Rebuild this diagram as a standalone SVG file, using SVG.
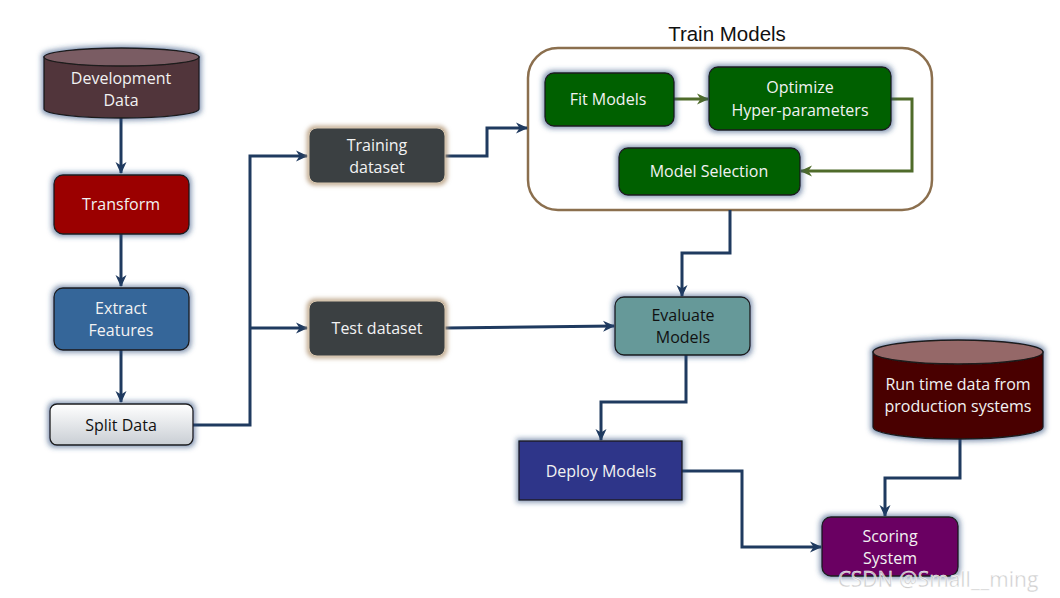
<svg xmlns="http://www.w3.org/2000/svg" width="1060" height="598" viewBox="0 0 1060 598">
<defs>
<filter id="glow" x="-20%" y="-30%" width="140%" height="160%">
<feMorphology in="SourceAlpha" operator="dilate" radius="2" result="d"/>
<feGaussianBlur in="d" stdDeviation="2.5" result="b"/>
<feFlood flood-color="#2a4a7a" flood-opacity="0.55"/>
<feComposite in2="b" operator="in" result="s"/>
<feMerge><feMergeNode in="s"/><feMergeNode in="SourceGraphic"/></feMerge>
</filter>
<filter id="tan" x="-20%" y="-30%" width="140%" height="160%">
<feMorphology in="SourceAlpha" operator="dilate" radius="2" result="d"/>
<feGaussianBlur in="d" stdDeviation="2" result="b"/>
<feFlood flood-color="#b59a7a" flood-opacity="0.8"/>
<feComposite in2="b" operator="in" result="s"/>
<feMerge><feMergeNode in="s"/><feMergeNode in="SourceGraphic"/></feMerge>
</filter>
<linearGradient id="split" x1="0" y1="0" x2="0" y2="1">
<stop offset="0" stop-color="#ffffff"/><stop offset="1" stop-color="#c9ced4"/>
</linearGradient>
<marker id="ab" viewBox="0 0 12 12" refX="11" refY="6" markerWidth="12" markerHeight="12" markerUnits="userSpaceOnUse" orient="auto">
<path d="M0,0.5 L12,6 L0,11.5 L3.5,6 Z" fill="#1f3a5f"/>
</marker>
<marker id="ag" viewBox="0 0 12 12" refX="11" refY="6" markerWidth="12" markerHeight="12" markerUnits="userSpaceOnUse" orient="auto">
<path d="M0,0.5 L12,6 L0,11.5 L3.5,6 Z" fill="#4f6b2a"/>
</marker>
</defs>
<style>
.t{font-family:"Open Sans","Noto Sans",sans-serif;font-size:16px;text-anchor:middle;fill:#f2f2f2}
.k{fill:#111}
.c{fill:none;stroke:#1f3a5f;stroke-width:3;stroke-linejoin:miter}
.g{fill:none;stroke:#4f6b2a;stroke-width:3}
.n{stroke:#1a1a1a;stroke-width:1.3}
</style>
<rect width="1060" height="598" fill="#ffffff"/>

<g id="train-models">
<rect x="528" y="48" width="404" height="162" rx="30" fill="#ffffff" stroke="#8b6f4e" stroke-width="2.5"/>
<text x="727" y="41" font-family="'Liberation Sans',Arial,sans-serif" font-size="20.5" text-anchor="middle" fill="#111">Train Models</text>
</g>

<g id="connectors">
<polyline class="c" points="121,118 121,173" marker-end="url(#ab)"/>
<polyline class="c" points="121,234 121,286" marker-end="url(#ab)"/>
<polyline class="c" points="121,350 121,402" marker-end="url(#ab)"/>
<polyline class="c" points="193,425 250,425 250,156 307,156" marker-end="url(#ab)"/>
<polyline class="c" points="250,328 307,328" marker-end="url(#ab)"/>
<polyline class="c" points="445,156 487,156 487,128 527,128" marker-end="url(#ab)"/>
<polyline class="c" points="445,328 614,326" marker-end="url(#ab)"/>
<polyline class="c" points="730,210 730,253 682,253 682,296" marker-end="url(#ab)"/>
<polyline class="c" points="686,355 686,402 601,402 601,440" marker-end="url(#ab)"/>
<polyline class="c" points="682,471 742,471 742,547 821,547" marker-end="url(#ab)"/>
<polyline class="c" points="960,438 960,478 885,478 885,516" marker-end="url(#ab)"/>
<polyline class="g" points="674,99 708,99" marker-end="url(#ag)"/>
<polyline class="g" points="891,99 912,99 912,171 801,171" marker-end="url(#ag)"/>
</g>

<g id="dev-data" filter="url(#glow)">
<path d="M44,57 L44,109 A77.5,9 0 0 0 199,109 L199,57 Z" fill="#51343a" class="n"/>
<ellipse cx="121.5" cy="57" rx="77.5" ry="9" fill="#7a5c63" class="n"/>
</g>
<text class="t" x="121" y="84">Development</text>
<text class="t" x="121" y="106">Data</text>

<g id="transform"><rect x="54" y="175" width="135" height="59" rx="9" fill="#9b0000" class="n" filter="url(#glow)"/>
<text class="t" x="121" y="210">Transform</text></g>

<g id="extract"><rect x="54" y="288" width="135" height="62" rx="9" fill="#356699" class="n" filter="url(#glow)"/>
<text class="t" x="121" y="314">Extract</text><text class="t" x="121" y="336">Features</text></g>

<g id="split"><rect x="50" y="404" width="143" height="41" rx="7" fill="url(#split)" class="n" filter="url(#glow)"/>
<text class="t k" x="121" y="431">Split Data</text></g>

<g id="training"><rect x="309" y="128" width="136" height="55" rx="8" fill="#3b3f42" stroke="#d8c8b0" stroke-width="1" filter="url(#tan)"/>
<text class="t" x="377" y="151">Training</text><text class="t" x="377" y="173">dataset</text></g>

<g id="test"><rect x="309" y="301" width="136" height="55" rx="8" fill="#3b3f42" stroke="#d8c8b0" stroke-width="1" filter="url(#tan)"/>
<text class="t" x="377" y="334">Test dataset</text></g>

<g id="fit"><rect x="545" y="73" width="129" height="53" rx="9" fill="#006000" class="n" filter="url(#glow)"/>
<text class="t" x="608" y="105">Fit Models</text></g>

<g id="optimize"><rect x="709" y="67" width="182" height="63" rx="9" fill="#006000" class="n" filter="url(#glow)"/>
<text class="t" x="800" y="93">Optimize</text><text class="t" x="800" y="116">Hyper-parameters</text></g>

<g id="selection"><rect x="619" y="148" width="181" height="47" rx="9" fill="#006000" class="n" filter="url(#glow)"/>
<text class="t" x="709" y="177">Model Selection</text></g>

<g id="evaluate"><rect x="615" y="297" width="135" height="58" rx="9" fill="#669999" class="n" filter="url(#glow)"/>
<text class="t k" x="683" y="321">Evaluate</text><text class="t k" x="683" y="343">Models</text></g>

<g id="deploy"><rect x="519" y="441" width="163" height="59" fill="#2e3589" class="n" filter="url(#glow)"/>
<text class="t" x="601" y="477">Deploy Models</text></g>

<g id="runtime-data" filter="url(#glow)">
<path d="M873,352 L873,427 A85,12 0 0 0 1043,427 L1043,352 Z" fill="#4a0000" class="n"/>
<ellipse cx="958" cy="352" rx="85" ry="12" fill="#956867" class="n"/>
</g>
<text class="t" x="958" y="390">Run time data from</text>
<text class="t" x="958" y="412">production systems</text>

<g id="scoring"><rect x="822" y="517" width="136" height="59" rx="9" fill="#6a0062" class="n" filter="url(#glow)"/>
<text class="t" x="890" y="542">Scoring</text><text class="t" x="890" y="564">System</text></g>

<text x="938" y="587" font-family="'Open Sans','Noto Sans',sans-serif" font-size="21" text-anchor="middle" fill="#c8c8c8" fill-opacity="0.9" stroke="#ffffff" stroke-width="0.4">CSDN @Small__ming</text>
</svg>
